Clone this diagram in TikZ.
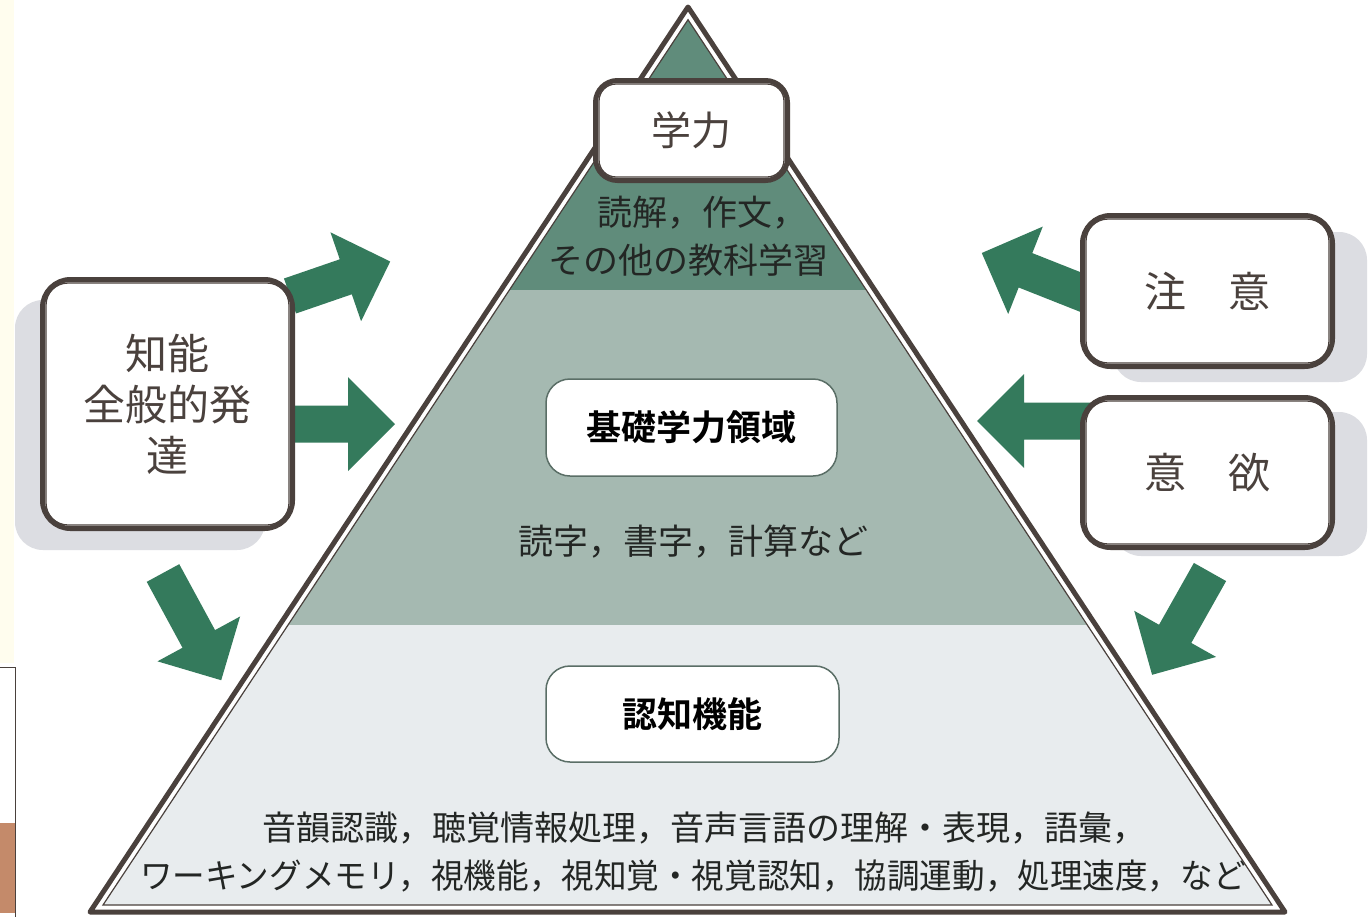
\documentclass[tikz,border=0pt]{standalone}
\usepackage{fontspec}
\usepackage{graphicx}
\usetikzlibrary{calc}
\newfontfamily\jp{Noto Sans CJK JP}[BoldFont={Noto Sans CJK JP Bold}]
\definecolor{ink}{RGB}{74,65,61}
\definecolor{arrowgreen}{RGB}{52,122,92}
\definecolor{topband}{RGB}{96,140,123}
\definecolor{midband}{RGB}{165,185,177}
\definecolor{lowband}{RGB}{232,236,238}
\definecolor{shadowgray}{RGB}{220,221,226}
\definecolor{stripyellow}{RGB}{255,253,238}
\definecolor{textdark}{RGB}{35,38,36}
\definecolor{innerborder}{RGB}{90,110,102}
\definecolor{brownfill}{RGB}{196,138,106}
\tikzset{
  pics/blockarrow/.style={code={
    \fill[arrowgreen] (0,-18.5) -- ({#1-47},-18.5) -- ({#1-47},-47) -- (#1,0)
      -- ({#1-47},47) -- ({#1-47},18.5) -- (0,18.5) -- cycle;}},
  sidebox/.style={draw=ink, line width=5pt, fill=white, rounded corners=28pt,
    inner sep=0pt, text=ink, align=center, font=\jp\fontsize{42}{51}\selectfont},
  shadowbox/.style={fill=shadowgray, rounded corners=28pt},
  innerline/.style={draw=ink, line width=1.3pt, rounded corners=22pt},
  levelbox/.style={draw=innerborder, line width=1.5pt, fill=white, rounded corners=24pt,
    inner sep=0pt, text=black, font=\jp\bfseries\fontsize{35}{40}\selectfont},
  bandtext/.style={inner sep=0pt, text=textdark, font=\jp\fontsize{35}{40}\selectfont},
  basetext/.style={inner sep=0pt, text=textdark, font=\jp\fontsize{34}{40}\selectfont}
}
\begin{document}
\begin{tikzpicture}[x=1pt,y=-1pt]
\useasboundingbox (0,0) rectangle (1370,916);
\fill[white] (0,0) rectangle (1370,916);
% left page strip
\fill[stripyellow] (0,0) rectangle (14,663);
\fill[stripyellow] (0,913) rectangle (14,916);
\draw[ink, line width=1pt, fill=white] (-2,667) rectangle (15,918);
\fill[brownfill] (0,823) rectangle (14.5,913);

% shadows
\fill[shadowbox] (15,300) rectangle (265,550);
\fill[shadowbox] (1113,232) rectangle (1367,382);
\fill[shadowbox] (1113,412) rectangle (1367,556);

% pyramid
\fill[white] (688,7) -- (90,912) -- (1285,912) -- cycle;
\begin{scope}
  \clip (688,19.7) -- (103,905) -- (1272,905) -- cycle;
  \fill[topband] (0,0) rectangle (1370,290);
  \fill[midband] (0,290) rectangle (1370,625);
  \fill[lowband] (0,625) rectangle (1370,916);
\end{scope}
\draw[ink, line width=5pt, line join=round] (688,7) -- (90,912) -- (1285,912) -- cycle;
\draw[ink, line width=1.2pt] (688,19.7) -- (103,905) -- (1272,905) -- cycle;

% arrows
\pic[rotate=19] at (290,296) {blockarrow=106};
\pic at (280,424) {blockarrow=115};
\pic[rotate=-61.5] at (163,573) {blockarrow=122};
\pic[rotate=158.4] at (1098,299) {blockarrow=125};
\pic[rotate=180] at (1100,421) {blockarrow=123};
\pic[rotate=240.6] at (1210,572) {blockarrow=118};

% side boxes
\node[sidebox, minimum width=250pt, minimum height=249pt] (chino) at (167.5,404)
  {知能\\全般的発\\達};
\draw[innerline] ($(chino.north west)+(6,6)$) rectangle ($(chino.south east)+(-6,-6)$);

\node[sidebox, minimum width=250pt, minimum height=151pt] (chui) at (1207.5,291)
  {注\hspace{1em}意};
\draw[innerline] ($(chui.north west)+(6,6)$) rectangle ($(chui.south east)+(-6,-6)$);

\node[sidebox, minimum width=250pt, minimum height=150pt] (iyoku) at (1207.5,472.5)
  {意\hspace{1em}欲};
\draw[innerline] ($(iyoku.north west)+(6,6)$) rectangle ($(iyoku.south east)+(-6,-6)$);

% top box
\node[sidebox, rounded corners=22pt, font=\jp\fontsize{40}{48}\selectfont,
  minimum width=192pt, minimum height=100pt] (gakuryoku) at (691.5,130.5) {学力};
\draw[innerline, rounded corners=17pt] ($(gakuryoku.north west)+(6,6)$) rectangle ($(gakuryoku.south east)+(-6,-6)$);

% band texts
\node[bandtext, anchor=west] (t1) at (597,213) {読解，作文，};
\node[bandtext] (t2) at (688,260) {その他の教科学習};

\node[levelbox, minimum width=291pt, minimum height=97pt] (kiso) at (691.5,427.5) {基礎学力領域};
\node[bandtext, anchor=west] (t3) at (518,542) {読字，書字，計算など};

\node[levelbox, minimum width=293pt, minimum height=96pt] (ninchi) at (692.5,714) {認知機能};

\node[basetext, anchor=west] (t4) at (262,828) {音韻認識，聴覚情報処理，音声言語の理解・表現，語彙，};
\node[basetext, anchor=west] (t5) at (140,876) {\scalebox{0.958}[1]{ワーキングメモリ，視機能，視知覚・視覚認知，協調運動，処理速度，など}};
\end{tikzpicture}
\end{document}
